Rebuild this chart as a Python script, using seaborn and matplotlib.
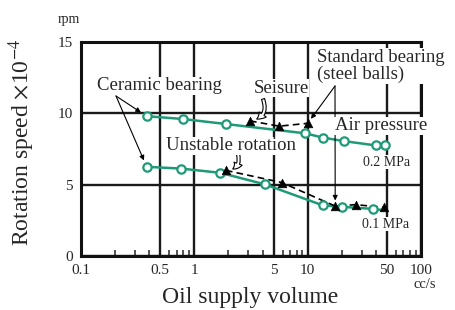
import matplotlib
matplotlib.use("Agg")
import matplotlib.pyplot as plt
from matplotlib.ticker import LogLocator, NullFormatter
import seaborn as sns
import pandas as pd

# ceramic bearing, air pressure 0.2 MPa (open circles)
cer_hi_x = [0.38, 0.8, 1.9, 9.5, 13.6, 21, 40, 48]
cer_hi_y = [9.8, 9.6, 9.25, 8.6, 8.3, 8.05, 7.75, 7.75]
# ceramic bearing, air pressure 0.1 MPa
cer_lo_x = [0.38, 0.76, 1.7, 4.2, 13.6, 20, 37.6]
cer_lo_y = [6.25, 6.13, 5.83, 5.02, 3.55, 3.45, 3.3]
# the 0.1 MPa curve runs on a bit past the last circle
cer_lo_tail_x = [37.6, 48]
cer_lo_tail_y = [3.3, 3.2]

# standard bearing (steel balls), filled triangles
std_hi_x = [3.1, 5.6, 10]
std_hi_y = [9.47, 9.1, 9.3]
std_lo_x = [1.9, 5.9, 17.5, 26.6, 47.5]
std_lo_y = [6.0, 5.15, 3.5, 3.6, 3.4]

x_ticks = [0.1, 0.5, 1, 5, 10, 50, 100]
x_ticklabels = ["0.1", "0.5", "1", "5", "10", "50", "100"]
y_ticks = [0, 5, 10, 15]

sns.set_style("white")
plt.rcParams["font.family"] = ["Liberation Serif", "DejaVu Serif"]
plt.rcParams["mathtext.fontset"] = "stix"

green = "#1f9a78"
W, H = 455, 310


def px(x, y):
    # pixel position in the picture -> figure fraction
    return (x / W, 1 - y / H)


fig = plt.figure(figsize=(4.55, 3.1), dpi=100)
ax = fig.add_axes([81 / W, 1 - 256 / H, (421 - 81) / W, (256 - 42) / H])

lo_curve = pd.DataFrame({"x": cer_lo_x + cer_lo_tail_x[1:], "y": cer_lo_y + cer_lo_tail_y[1:]})
sns.lineplot(x=cer_hi_x, y=cer_hi_y, ax=ax, color=green, lw=1.8, sort=False, zorder=2)
sns.lineplot(data=lo_curve, x="x", y="y", ax=ax, color=green, lw=1.8, sort=False, zorder=2)
sns.lineplot(x=std_hi_x, y=std_hi_y, ax=ax, color="black", lw=1.2, sort=False,
             dashes=False, zorder=2).lines[-1].set_dashes([4, 2.5])
sns.lineplot(x=std_lo_x, y=std_lo_y, ax=ax, color="black", lw=1.2, sort=False,
             zorder=2).lines[-1].set_dashes([4, 2.5])

for xs, ys in [(cer_hi_x, cer_hi_y), (cer_lo_x, cer_lo_y)]:
    sns.scatterplot(x=xs, y=ys, ax=ax, marker="o", s=36, facecolor="white",
                    edgecolor=green, linewidth=1.6, zorder=4)
for xs, ys in [(std_hi_x, std_hi_y), (std_lo_x, std_lo_y)]:
    sns.scatterplot(x=xs, y=ys, ax=ax, marker="^", s=38, color="black",
                    edgecolor="black", linewidth=0.5, zorder=5)

ax.set_xscale("log")
ax.set_xlim(0.1, 100)
ax.set_ylim(0, 15)
ax.set_xticks(x_ticks)
ax.set_xticklabels(x_ticklabels)
ax.set_yticks(y_ticks)
ax.xaxis.set_minor_locator(LogLocator(base=10, subs=range(2, 10)))
ax.xaxis.set_minor_formatter(NullFormatter())
ax.tick_params(which="major", length=0, labelsize=11, pad=6)
ax.tick_params(axis="x", which="minor", direction="in", length=4, width=1.1, bottom=True)
ax.set_axisbelow(True)
ax.grid(True, which="major", color="#1a1a1a", lw=1.7)
for s in ax.spines.values():
    s.set_linewidth(2.2)
    s.set_color("#111111")
ax.set_xlabel("")
ax.set_ylabel("")

fig.text(*px(250, 297), "Oil supply volume", fontsize=17, ha="center", va="center")
fig.text(*px(22, 142), r"Rotation speed $\times$10$^{-4}$", fontsize=17, rotation=90,
         ha="center", va="center")
fig.text(*px(69, 19), "rpm", fontsize=10, ha="center", va="center")
fig.text(*px(425, 284), "cc/s", fontsize=10.5, ha="center", va="center")

box = dict(facecolor="white", edgecolor="none", pad=0.5)
ann = dict(fontsize=13.5, bbox=box, zorder=6)

# ceramic bearing labels and pointers
fig.text(*px(159, 86), "Ceramic bearing", ha="center", va="center", **ann)
for xx, yy in [(cer_hi_x[0], cer_hi_y[0]), (cer_lo_x[0], cer_lo_y[0])]:
    ax.annotate("", xy=(xx, yy), xycoords="data", xytext=px(116, 96),
                textcoords="figure fraction",
                arrowprops=dict(arrowstyle="-|>", color="black", lw=0.8,
                                shrinkA=0, shrinkB=5, mutation_scale=7))

# seizure
fig.text(*px(281, 88), "Seisure", ha="center", va="center", **ann)
ax.annotate("", xy=(std_hi_x[0], std_hi_y[0]), xycoords="data", xytext=px(263, 99),
            textcoords="figure fraction",
            arrowprops=dict(arrowstyle="simple,head_width=0.7,head_length=0.6,tail_width=0.25",
                            fc="white", ec="black", lw=0.8, shrinkA=0, shrinkB=5,
                            connectionstyle="arc3,rad=-0.6", mutation_scale=9))

# standard bearing
fig.text(*px(317, 66), "Standard bearing\n(steel balls)", ha="left", va="center",
         linespacing=0.95, **ann)
ax.annotate("", xy=(std_hi_x[2], std_hi_y[2]), xycoords="data", xytext=px(335, 86),
            textcoords="figure fraction",
            arrowprops=dict(arrowstyle="-|>", color="black", lw=0.8, shrinkA=0,
                            shrinkB=4, mutation_scale=7))
ax.annotate("", xy=(std_lo_x[2], std_lo_y[2]), xycoords="data", xytext=px(335, 86),
            textcoords="figure fraction",
            arrowprops=dict(arrowstyle="-|>", color="black", lw=0.8, shrinkA=0,
                            shrinkB=4, mutation_scale=7))

# unstable rotation
fig.text(*px(231, 146), "Unstable rotation", ha="center", va="center", **ann)
ax.annotate("", xy=(std_lo_x[0], std_lo_y[0]), xycoords="data", xytext=px(238, 154),
            textcoords="figure fraction",
            arrowprops=dict(arrowstyle="simple,head_width=0.7,head_length=0.6,tail_width=0.25",
                            fc="white", ec="black", lw=0.8, shrinkA=0, shrinkB=5,
                            connectionstyle="arc3,rad=-0.6", mutation_scale=9))

# air pressure
fig.text(*px(335, 126), "Air pressure", ha="left", va="center", **ann)
fig.text(*px(363, 162), "0.2 MPa", ha="left", va="center", fontsize=10,
         bbox=box, zorder=6)
fig.text(*px(362, 224), "0.1 MPa", ha="left", va="center", fontsize=10,
         bbox=box, zorder=6)

fig.savefig("out.png", dpi=100)
